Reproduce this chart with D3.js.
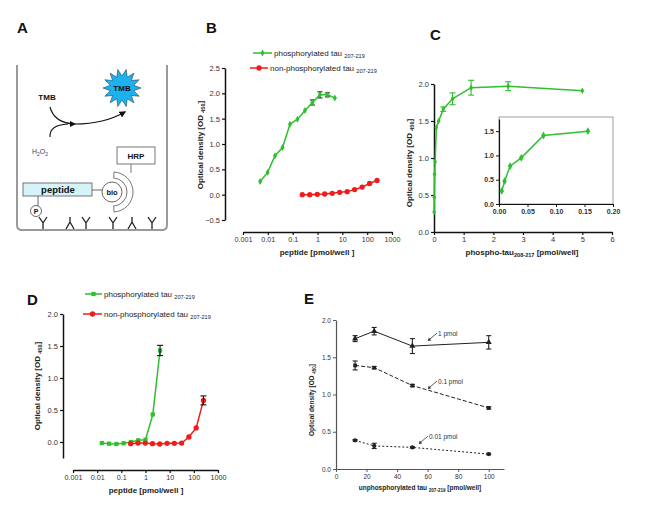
<!DOCTYPE html>
<html>
<head>
<meta charset="utf-8">
<script src="https://cdn.jsdelivr.net/npm/d3@7"></script>
<style>
body { margin: 0; background: #fff; }
svg { font-family: "Liberation Sans", Arial, sans-serif; }
</style>
</head>
<body>
<svg id="fig" width="650" height="516"></svg>
<script>

// ---- data ----
var logTicks  = [0.001, 0.01, 0.1, 1, 10, 100, 1000];
var logLabels = ["0.001", "0.01", "0.1", "1", "10", "100", "1000"];

// B
var bPhosX   = [0.0049, 0.0098, 0.0195, 0.039, 0.078, 0.156, 0.3125, 0.625, 1.25, 2.5, 5];
var bPhosY   = [0.26, 0.44, 0.77, 0.93, 1.39, 1.49, 1.66, 1.82, 1.97, 1.97, 1.91];
var bPhosErr = [0, 0, 0, 0, 0, 0, 0, 0.05, 0.06, 0.04, 0];
var bNonX    = [0.244, 0.488, 0.977, 1.95, 3.9, 7.8, 15.6, 31.25, 62.5, 125, 250];
var bNonY    = [0, 0, 0.007, 0.013, 0.026, 0.046, 0.06, 0.1, 0.15, 0.22, 0.28];

// C
var cX   = [0.0049, 0.0098, 0.0195, 0.039, 0.078, 0.156, 0.3125, 0.625, 1.25, 2.5, 5];
var cY   = [0.27, 0.47, 0.78, 0.95, 1.41, 1.5, 1.66, 1.80, 1.95, 1.97, 1.91];
var cErr = [0, 0, 0, 0, 0, 0, 0.03, 0.08, 0.1, 0.06, 0];
var cInsetN = 6;

// D
var dPhosX   = [0.0156, 0.03125, 0.0625, 0.125, 0.25, 0.5, 1, 2, 4];
var dPhosY   = [-0.016, -0.026, -0.031, -0.02, 0, 0.026, 0.036, 0.43, 1.43];
var dPhosErr = [0, 0, 0, 0, 0, 0, 0, 0, 0.08];
var dNonX    = [0.244, 0.488, 0.977, 1.95, 3.9, 7.8, 15.6, 31.25, 62.5, 125, 250];
var dNonY    = [-0.026, -0.016, -0.016, -0.026, -0.031, -0.02, -0.02, -0.016, 0.078, 0.22, 0.65];
var dNonErr  = [0, 0, 0, 0, 0, 0, 0, 0, 0, 0, 0.07];

// E
var eX       = [12.5, 25, 50, 100];
var e1Y      = [1.75, 1.85, 1.65, 1.70];
var e1Err    = [0.04, 0.05, 0.1, 0.09];
var e01Y     = [1.39, 1.36, 1.12, 0.82];
var e01Err   = [0.06, 0.015, 0.015, 0.015];
var e001Y    = [0.385, 0.31, 0.29, 0.20];
var e001Err  = [0.01, 0.035, 0.01, 0.01];
var eLabels  = ["1 pmol", "0.1 pmol", "0.01 pmol"];

var GREEN = "#2fbf2f", RED = "#ee1c1c";

var svg = d3.select("#fig");

function zip(xs, ys, es){
	return xs.map(function(x, i){ return [x, ys[i], es ? es[i] : 0]; });
}

function styleAxis(g, col, sw, fs, bold){
	g.attr("font-family", null).attr("font-size", fs);
	g.select(".domain").attr("stroke", col).attr("stroke-width", sw);
	g.selectAll(".tick line").attr("stroke", col).attr("stroke-width", sw * 0.8);
	g.selectAll(".tick text").attr("fill", "#333").attr("font-weight", bold ? "bold" : null);
}

function subText(parent, x, y, main, sub, after, fs, weight, anchor){
	var t = parent.append("text")
		.attr("x", x).attr("y", y)
		.attr("font-size", fs)
		.attr("font-weight", weight)
		.attr("text-anchor", anchor)
		.attr("fill", "#222");
	t.append("tspan").text(main);
	t.append("tspan").attr("dy", fs * 0.28).attr("font-size", fs * 0.7).text(sub);
	if (after) t.append("tspan").attr("dy", -fs * 0.28).text(after);
	return t;
}

function errBars(g, data, xs, ys, col, cap){
	var eb = g.append("g").attr("stroke", col).attr("stroke-width", 1.1);
	data.filter(function(d){ return d[2] > 0; }).forEach(function(d){
		var x = xs(d[0]);
		eb.append("line").attr("x1", x).attr("x2", x).attr("y1", ys(d[1] - d[2])).attr("y2", ys(d[1] + d[2]));
		eb.append("line").attr("x1", x - cap).attr("x2", x + cap).attr("y1", ys(d[1] - d[2])).attr("y2", ys(d[1] - d[2]));
		eb.append("line").attr("x1", x - cap).attr("x2", x + cap).attr("y1", ys(d[1] + d[2])).attr("y2", ys(d[1] + d[2]));
	});
}

function series(g, data, xs, ys, col, symbol, size, dash, width){
	g.append("path")
		.datum(data)
		.attr("fill", "none")
		.attr("stroke", col)
		.attr("stroke-width", width || 1.5)
		.attr("stroke-dasharray", dash || null)
		.attr("d", d3.line()
			.x(function(d){ return xs(d[0]); })
			.y(function(d){ return ys(d[1]); }));
	g.append("g").selectAll("path")
		.data(data)
		.enter()
		.append("path")
		  .attr("transform", function(d){ return "translate(" + xs(d[0]) + "," + ys(d[1]) + ")"; })
		  .attr("d", d3.symbol().type(symbol).size(size))
		  .attr("fill", col);
}

function panelLetter(x, y, s){
	svg.append("text").attr("x", x).attr("y", y)
		.attr("font-size", 15).attr("font-weight", "bold").attr("fill", "#111").text(s);
}

function yTitle(x, y, fs){
	var g = svg.append("g").attr("transform", "translate(" + x + "," + y + ") rotate(-90)");
	subText(g, 0, 0, "Optical density [OD ", "450", "]", fs, "bold", "middle");
}

// ---------------- A: assay scheme ----------------
function draw_scheme(){
	panelLetter(17, 33, "A");
	var g = svg.append("g");
	var defs = svg.append("defs");
	defs.append("marker").attr("id", "ah").attr("viewBox", "0 0 10 10")
		.attr("refX", 8).attr("refY", 5).attr("markerWidth", 6).attr("markerHeight", 6)
		.attr("orient", "auto")
		.append("path").attr("d", "M0,0 L10,5 L0,10 z").attr("fill", "#111");

	g.append("path")
		.attr("d", "M17,65 V225 Q17,230 22,230 H162 Q167,230 167,225 V65")
		.attr("fill", "none").attr("stroke", "#9a9a9a").attr("stroke-width", 2);

	// starburst
	var pts = d3.range(28).map(function(i){
		var a = i * Math.PI / 14, r = (i % 2 === 0) ? 19 : 12;
		return [122 + r * Math.cos(a), 88 + r * Math.sin(a)];
	});
	g.append("path").attr("d", d3.line()(pts) + "Z")
		.attr("fill", "#1cb2ef").attr("stroke", "#245").attr("stroke-width", 0.6);
	g.append("text").attr("x", 122).attr("y", 91).attr("text-anchor", "middle")
		.attr("font-size", 8).attr("font-weight", "bold").attr("fill", "#111").text("TMB");
	g.append("text").attr("x", 47).attr("y", 100).attr("text-anchor", "middle")
		.attr("font-size", 8).attr("font-weight", "bold").attr("fill", "#111").text("TMB");

	g.append("path").attr("d", "M50,107 Q54,123 75,124 Q104,124 125,112")
		.attr("fill", "none").attr("stroke", "#111").attr("stroke-width", 1.1)
		.attr("marker-end", "url(#ah)");
	g.append("path").attr("d", "M50,137 Q49,125 68,124")
		.attr("fill", "none").attr("stroke", "#111").attr("stroke-width", 1.1);
	g.append("path").attr("d", "M70,121 L76,124 L70,127 z").attr("fill", "#111");

	var h = g.append("text").attr("x", 40).attr("y", 154).attr("text-anchor", "middle")
		.attr("font-size", 7).attr("fill", "#444");
	h.append("tspan").text("H");
	h.append("tspan").attr("dy", 2).attr("font-size", 5).text("2");
	h.append("tspan").attr("dy", -2).text("O");
	h.append("tspan").attr("dy", 2).attr("font-size", 5).text("2");

	// HRP
	g.append("rect").attr("x", 117).attr("y", 147).attr("width", 38).attr("height", 17)
		.attr("fill", "#fff").attr("stroke", "#555").attr("stroke-width", 0.8);
	g.append("text").attr("x", 136).attr("y", 159).attr("text-anchor", "middle")
		.attr("font-size", 8).attr("font-weight", "bold").attr("fill", "#111").text("HRP");
	g.append("line").attr("x1", 131).attr("x2", 131).attr("y1", 164).attr("y2", 173)
		.attr("stroke", "#555").attr("stroke-width", 0.8);

	// streptavidin horseshoe around bio
	var arc = d3.arc().innerRadius(14).outerRadius(20).startAngle(0.05).endAngle(Math.PI - 0.05);
	g.append("path").attr("transform", "translate(113,192)").attr("d", arc())
		.attr("fill", "#fff").attr("stroke", "#555").attr("stroke-width", 0.8);
	g.append("circle").attr("cx", 112).attr("cy", 192).attr("r", 10)
		.attr("fill", "#fff").attr("stroke", "#444").attr("stroke-width", 0.8);
	g.append("text").attr("x", 112).attr("y", 195).attr("text-anchor", "middle")
		.attr("font-size", 7.5).attr("font-weight", "bold").attr("fill", "#111").text("bio");
	g.append("line").attr("x1", 92).attr("x2", 102).attr("y1", 190).attr("y2", 190)
		.attr("stroke", "#444").attr("stroke-width", 0.8);

	// peptide
	g.append("rect").attr("x", 23).attr("y", 183).attr("width", 69).attr("height", 13)
		.attr("fill", "#d4f4f9").attr("stroke", "#555").attr("stroke-width", 0.8);
	g.append("text").attr("x", 58).attr("y", 193).attr("text-anchor", "middle")
		.attr("font-size", 9.5).attr("font-weight", "bold").attr("fill", "#111").text("peptide");
	g.append("line").attr("x1", 38).attr("x2", 38).attr("y1", 196).attr("y2", 206)
		.attr("stroke", "#444").attr("stroke-width", 0.8);
	g.append("circle").attr("cx", 36).attr("cy", 211).attr("r", 5.5)
		.attr("fill", "#fff").attr("stroke", "#444").attr("stroke-width", 0.8);
	g.append("text").attr("x", 36).attr("y", 214).attr("text-anchor", "middle")
		.attr("font-size", 7).attr("font-weight", "bold").attr("fill", "#111").text("P");

	// capture antibodies
	var abs = [[43, 1], [70, -1], [86, 1], [113, 1], [132, -1], [152, 1]];
	abs.forEach(function(a){
		var x = a[0], d;
		if (a[1] > 0) d = "M" + x + ",229 V223 L" + (x - 4) + ",217 M" + x + ",223 L" + (x + 4) + ",217";
		else d = "M" + x + ",217 V222 L" + (x - 4) + ",229 M" + x + ",222 L" + (x + 4) + ",229";
		g.append("path").attr("d", d).attr("fill", "none").attr("stroke", "#222").attr("stroke-width", 1.3);
	});
}

// ---------------- B ----------------
function draw_B(){
	panelLetter(206, 33, "B");
	var xs = d3.scaleLog().domain([0.001, 1000]).range([243, 392]);
	var ys = d3.scaleLinear().domain([-0.5, 2.5]).range([220, 68]);

	svg.append("g").attr("transform", "translate(0,232)")
		.call(d3.axisBottom(xs).tickValues(logTicks).tickFormat(function(d, i){ return logLabels[i]; })
			.tickSize(3).tickSizeOuter(0).tickPadding(2))
		.call(styleAxis, "#111", 1.5, 7.2);
	svg.append("g").attr("transform", "translate(225,0)")
		.call(d3.axisLeft(ys).tickValues([-0.5, 0, 0.5, 1, 1.5, 2, 2.5]).tickFormat(d3.format(".1f"))
			.tickSize(3).tickSizeOuter(0).tickPadding(2))
		.call(styleAxis, "#111", 1.5, 7.5);

	var g = svg.append("g");
	var ph = zip(bPhosX, bPhosY, bPhosErr), np = zip(bNonX, bNonY);
	errBars(g, ph, xs, ys, "#222", 2.5);
	series(g, ph, xs, ys, GREEN, d3.symbolDiamond, 14);
	series(g, np, xs, ys, RED, d3.symbolCircle, 22);

	// legend
	g.append("line").attr("x1", 253).attr("x2", 272).attr("y1", 53).attr("y2", 53)
		.attr("stroke", GREEN).attr("stroke-width", 1.5);
	g.append("path").attr("transform", "translate(262.5,53)").attr("d", d3.symbol().type(d3.symbolDiamond).size(14)()).attr("fill", GREEN);
	subText(g, 274, 56, "phosphorylated tau ", "207-219", null, 8, "normal", "start");
	g.append("line").attr("x1", 250).attr("x2", 268).attr("y1", 68).attr("y2", 68)
		.attr("stroke", RED).attr("stroke-width", 1.5);
	g.append("path").attr("transform", "translate(259,68)").attr("d", d3.symbol().type(d3.symbolCircle).size(22)()).attr("fill", RED);
	subText(g, 270, 71, "non-phosphorylated tau ", "207-219", null, 8, "normal", "start");

	yTitle(203, 145, 8);
	svg.append("text").attr("x", 317).attr("y", 255).attr("text-anchor", "middle")
		.attr("font-size", 8).attr("font-weight", "bold").attr("fill", "#222").text("peptide [pmol/well ]");
}

// ---------------- C ----------------
function draw_C(){
	panelLetter(430, 40, "C");
	var xs = d3.scaleLinear().domain([0, 6]).range([434, 612]);
	var ys = d3.scaleLinear().domain([0, 2]).range([232, 84]);

	svg.append("g").attr("transform", "translate(0,232)")
		.call(d3.axisBottom(xs).ticks(6).tickSize(3).tickSizeOuter(0).tickPadding(2))
		.call(styleAxis, "#111", 1.5, 7.5);
	svg.append("g").attr("transform", "translate(434,0)")
		.call(d3.axisLeft(ys).tickValues([0, 0.5, 1, 1.5, 2]).tickFormat(d3.format(".1f"))
			.tickSize(3).tickSizeOuter(0).tickPadding(2))
		.call(styleAxis, "#111", 1.5, 7.5);

	var g = svg.append("g");
	var d = zip(cX, cY, cErr);
	errBars(g, d, xs, ys, GREEN, 3);
	series(g, d, xs, ys, GREEN, d3.symbolDiamond, 12);

	// inset
	var xi = d3.scaleLinear().domain([0, 0.2]).range([499, 613]);
	var yi = d3.scaleLinear().domain([0, 1.75]).range([204, 119]);
	g.append("rect").attr("x", 499).attr("y", 117).attr("width", 114).attr("height", 87)
		.attr("fill", "#fff").attr("stroke", "#888").attr("stroke-width", 0.8);
	svg.append("g").attr("transform", "translate(0,204)")
		.call(d3.axisBottom(xi).tickValues([0, 0.05, 0.1, 0.15, 0.2]).tickFormat(d3.format(".2f"))
			.tickSize(3).tickSizeOuter(0).tickPadding(2))
		.call(styleAxis, "#111", 1.2, 7, true);
	svg.append("g").attr("transform", "translate(499,0)")
		.call(d3.axisLeft(yi).tickValues([0, 0.5, 1, 1.5]).tickFormat(d3.format(".1f"))
			.tickSize(3).tickSizeOuter(0).tickPadding(2))
		.call(styleAxis, "#111", 1.2, 7, true);
	var gi = svg.append("g");
	series(gi, d.slice(0, cInsetN), xi, yi, GREEN, d3.symbolDiamond, 18);

	yTitle(412, 163, 8);
	subText(svg, 522, 255, "phospho-tau", "208-217", " [pmol/well]", 8, "bold", "middle");
}

// ---------------- D ----------------
function draw_D(){
	panelLetter(27, 305, "D");
	var xs = d3.scaleLog().domain([0.001, 1000]).range([73, 218]);
	var ys = d3.scaleLinear().domain([-0.25, 2]).range([458, 314]);

	svg.append("g").attr("transform", "translate(0,470)")
		.call(d3.axisBottom(xs).tickValues(logTicks).tickFormat(function(d, i){ return logLabels[i]; })
			.tickSize(3).tickSizeOuter(0).tickPadding(2))
		.call(styleAxis, "#111", 1.5, 7.2);
	svg.append("g").attr("transform", "translate(63,0)")
		.call(d3.axisLeft(ys).tickValues([0, 0.5, 1, 1.5, 2]).tickFormat(d3.format(".1f"))
			.tickSize(3).tickSizeOuter(0).tickPadding(2))
		.call(styleAxis, "#111", 1.5, 7.5);

	var g = svg.append("g");
	var ph = zip(dPhosX, dPhosY, dPhosErr), np = zip(dNonX, dNonY, dNonErr);
	series(g, ph, xs, ys, GREEN, d3.symbolSquare, 18);
	series(g, np, xs, ys, RED, d3.symbolCircle, 22);
	errBars(g, ph, xs, ys, "#111", 3);
	errBars(g, np, xs, ys, "#111", 3);

	g.append("line").attr("x1", 85).attr("x2", 102).attr("y1", 294).attr("y2", 294)
		.attr("stroke", GREEN).attr("stroke-width", 1.5);
	g.append("path").attr("transform", "translate(93.5,294)").attr("d", d3.symbol().type(d3.symbolSquare).size(18)()).attr("fill", GREEN);
	subText(g, 104, 297, "phosphorylated tau ", "207-219", null, 8, "normal", "start");
	g.append("line").attr("x1", 83).attr("x2", 102).attr("y1", 314).attr("y2", 314)
		.attr("stroke", RED).attr("stroke-width", 1.5);
	g.append("path").attr("transform", "translate(92.5,314)").attr("d", d3.symbol().type(d3.symbolCircle).size(22)()).attr("fill", RED);
	subText(g, 104, 317, "non-phosphorylated tau ", "207-219", null, 8, "normal", "start");

	yTitle(40, 386, 8);
	svg.append("text").attr("x", 146).attr("y", 493).attr("text-anchor", "middle")
		.attr("font-size", 8).attr("font-weight", "bold").attr("fill", "#222").text("peptide [pmol/well ]");
}

// ---------------- E ----------------
function draw_E(){
	panelLetter(304, 304, "E");
	var xs = d3.scaleLinear().domain([0, 110]).range([336, 504]);
	var ys = d3.scaleLinear().domain([0, 2]).range([469, 320]);
	var col = "#555";

	svg.append("g").attr("transform", "translate(0,469)")
		.call(d3.axisBottom(xs).tickValues([0, 20, 40, 60, 80, 100])
			.tickSize(3).tickSizeOuter(0).tickPadding(2))
		.call(styleAxis, col, 1.2, 6.5);
	svg.append("g").attr("transform", "translate(336,0)")
		.call(d3.axisLeft(ys).tickValues([0, 0.5, 1, 1.5, 2]).tickFormat(d3.format(".1f"))
			.tickSize(3).tickSizeOuter(0).tickPadding(2))
		.call(styleAxis, col, 1.2, 6.5);

	var g = svg.append("g");
	var s1 = zip(eX, e1Y, e1Err), s2 = zip(eX, e01Y, e01Err), s3 = zip(eX, e001Y, e001Err);
	series(g, s1, xs, ys, "#222", d3.symbolTriangle, 16, null, 1);
	series(g, s2, xs, ys, "#222", d3.symbolSquare, 14, "4,2", 1);
	series(g, s3, xs, ys, "#222", d3.symbolCircle, 14, "2,2", 1);
	errBars(g, s1, xs, ys, "#222", 2.5);
	errBars(g, s2, xs, ys, "#222", 2.5);
	errBars(g, s3, xs, ys, "#222", 2.5);

	// labels with small arrows
	var lab = [[438, 336], [438, 384], [429, 439]];
	lab.forEach(function(l, i){
		g.append("text").attr("x", l[0]).attr("y", l[1])
			.attr("font-size", 6.5).attr("fill", "#333").text(eLabels[i]);
		g.append("line").attr("x1", l[0] - 1).attr("y1", l[1] - 3)
			.attr("x2", l[0] - 8).attr("y2", l[1] + 3)
			.attr("stroke", "#333").attr("stroke-width", 0.8);
		g.append("path").attr("transform", "translate(" + (l[0] - 8) + "," + (l[1] + 3) + ") rotate(140)")
			.attr("d", "M0,-1.8 L3,0 L0,1.8 z").attr("fill", "#333");
	});

	var gt = svg.append("g").attr("transform", "translate(314,400) rotate(-90)");
	subText(gt, 0, 0, "Optical density [OD ", "450", "]", 6.5, "bold", "middle");
	subText(svg, 420, 490, "unphosphorylated tau ", "207-219", " [pmol/well]", 6.5, "bold", "middle");
}

draw_scheme();
draw_B();
draw_C();
draw_D();
draw_E();

</script>
</body>
</html>
